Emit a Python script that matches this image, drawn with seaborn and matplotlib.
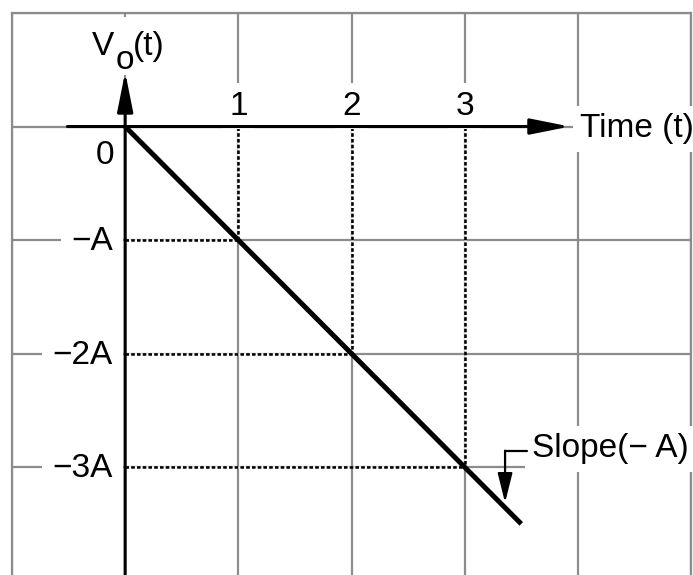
#!/usr/bin/env python3
import matplotlib
matplotlib.use("Agg")
import matplotlib.pyplot as plt
import pandas as pd
import seaborn as sns

# Ramp output V_o(t) = -A * t
t_vals = [0, 3.5]
v_vals = [0, -3.5]

# Marked instants on the time axis and their output levels
mark_t = [1, 2, 3]
mark_t_labels = ["1", "2", "3"]
mark_v = [-1, -2, -3]
mark_v_labels = ["\u2212A", "\u22122A", "\u22123A"]

GRID_COLOR = "#8c8c8c"
FS = 24

sns.set_theme(style="white")
plt.rcParams["font.family"] = ["Liberation Sans", "DejaVu Sans"]
plt.rcParams["text.color"] = "black"

W, H = 693, 575
fig = plt.figure(figsize=(W / 100, H / 100), dpi=100)
ax = fig.add_axes([12 / W, 0, 679 / W, 562 / H])

ax.set_xlim(-1, 5)
ax.set_ylim(-3.95, 1)
ax.set_xticks(range(-1, 6))
ax.set_yticks(range(-3, 2))
ax.tick_params(length=0, labelbottom=False, labelleft=False)
ax.grid(True, color=GRID_COLOR, linewidth=1.6, zorder=0)
ax.set_axisbelow(True)
for side in ["left", "top", "right"]:
    ax.spines[side].set_color(GRID_COLOR)
    ax.spines[side].set_linewidth(1.6)
ax.spines["bottom"].set_visible(False)

box = dict(boxstyle="square,pad=0.22", facecolor="white", edgecolor="none")

# dotted projections onto the axes
for t, v in zip(mark_t, mark_v):
    ax.plot([t, t], [0, v], color="black", linewidth=1.8,
            linestyle=(0, (1.4, 0.9)), gapcolor="white", zorder=3)
    ax.plot([0, t], [v, v], color="black", linewidth=1.8,
            linestyle=(0, (1.4, 0.9)), gapcolor="white", zorder=3)

# axes with arrow heads
arrow = dict(arrowstyle="-|>,head_length=1.2,head_width=0.24",
             color="black", lw=2.2, mutation_scale=20,
             shrinkA=0, shrinkB=0)
ax.annotate("", xy=(3.93, 0), xytext=(-0.51, 0), arrowprops=arrow, zorder=9)
ax.annotate("", xy=(0, 0.48), xytext=(0, -3.95), arrowprops=arrow, zorder=9)

# the ramp itself
df = pd.DataFrame({"t": t_vals, "v": v_vals})
sns.lineplot(data=df, x="t", y="v", color="black", linewidth=3.6,
             solid_capstyle="butt", ax=ax, zorder=10)
ax.set_xlabel("")
ax.set_ylabel("")

# tick labels
for t, lab in zip(mark_t, mark_t_labels):
    ax.text(t, 0.106, lab, ha="center", va="baseline", fontsize=FS,
            bbox=box, zorder=6)
for v, lab in zip(mark_v, mark_v_labels):
    ax.text(-0.11, v - 0.09, lab, ha="right", va="baseline", fontsize=FS,
            bbox=dict(boxstyle="square,pad=0.3", facecolor="white",
                      edgecolor="none"), zorder=6)
ax.text(-0.177, -0.33, "0", ha="center", va="baseline", fontsize=FS,
        zorder=6)

# axis titles
ax.text(-0.29, 0.634, "V", ha="left", va="baseline", fontsize=FS,
        bbox=dict(boxstyle="square,pad=0.4", facecolor="white",
                  edgecolor="none"), zorder=6)
ax.text(-0.085, 0.51, "o", ha="left", va="baseline", fontsize=FS, zorder=7)
ax.text(0.07, 0.634, "(t)", ha="left", va="baseline", fontsize=FS, zorder=7)
ax.text(4.02, -0.095, "Time (t)", ha="left", va="baseline", fontsize=FS,
        bbox=box, zorder=6)

# slope callout
ax.text(3.595, -2.915, "Slope(\u2212 A)", ha="left", va="baseline",
        fontsize=FS, bbox=box, zorder=6)
ax.plot([3.555, 3.357], [-2.855, -2.855], color="black", linewidth=1.6,
        zorder=7)
ax.annotate("", xy=(3.357, -3.313), xytext=(3.357, -2.855),
            arrowprops=dict(arrowstyle="-|>,head_length=1.0,head_width=0.25",
                            color="black", lw=1.6, mutation_scale=18,
                            shrinkA=0, shrinkB=0), zorder=7)

fig.savefig("out.png", dpi=100)
plt.close(fig)
